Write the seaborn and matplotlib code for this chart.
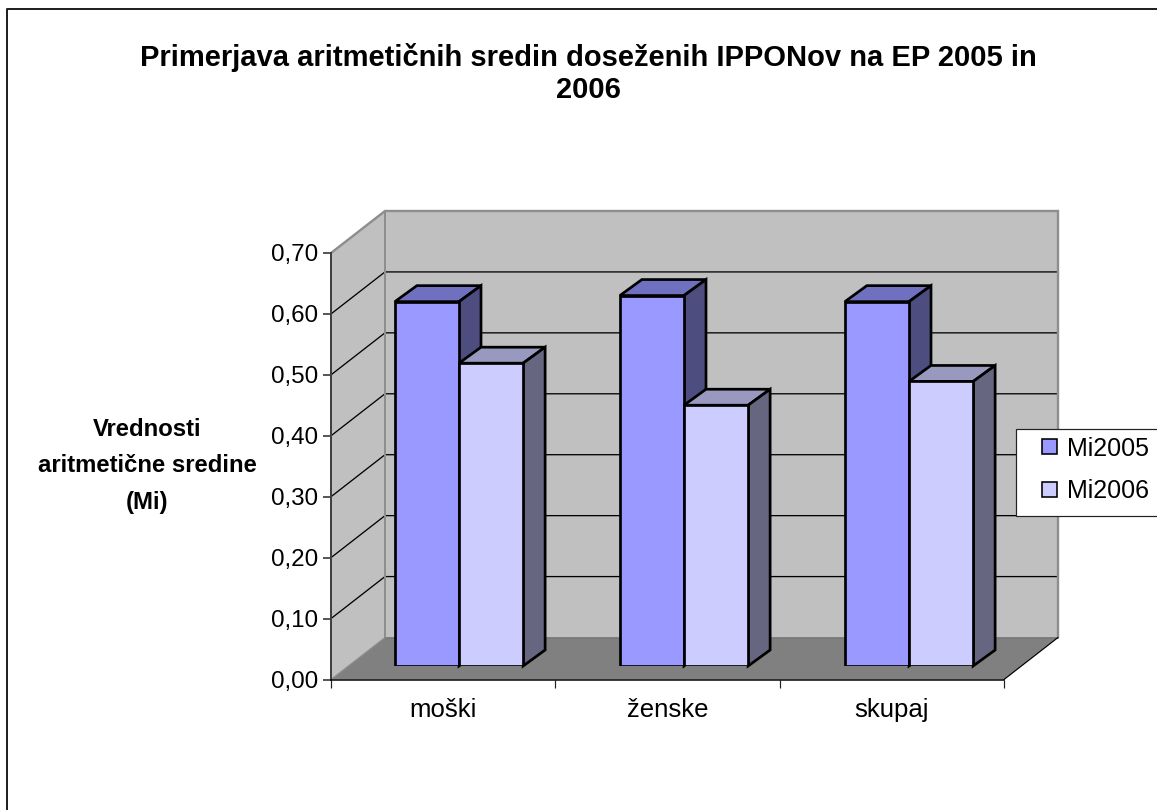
"""
Primerjava aritmeticnih sredin - 3D style column chart
drawn with a seaborn barplot, depth faces taken from the bar patches.
"""

import pandas as pd
import seaborn as sns
import matplotlib
matplotlib.use("Agg")
import matplotlib.pyplot as plt
from matplotlib.lines import Line2D
from matplotlib.patches import Patch, Polygon, Rectangle


# -------------------------
# Data
# -------------------------

categories = ["moški", "ženske", "skupaj"]
mi2005 = [0.598, 0.608, 0.598]
mi2006 = [0.497, 0.428, 0.467]
y_ticks = [0.0, 0.1, 0.2, 0.3, 0.4, 0.5, 0.6, 0.7]

title = "Primerjava aritmetičnih sredin doseženih IPPONov na EP 2005 in\n2006"
y_title = "Vrednosti\naritmetične sredine\n(Mi)"

data = pd.DataFrame({
    "kategorija": categories * 2,
    "serija": ["Mi2005"] * 3 + ["Mi2006"] * 3,
    "vrednost": mi2005 + mi2006,
})


# -------------------------
# Style
# -------------------------

sns.set_style("white")
plt.rcParams["font.family"] = ["Liberation Sans", "DejaVu Sans"]
plt.rcParams["text.color"] = "black"
plt.rcParams["axes.labelcolor"] = "black"
plt.rcParams["xtick.color"] = "black"
plt.rcParams["ytick.color"] = "black"

W, H = 1157, 810
PX = 0.72  # one pixel in points at dpi 100

front_colors = {"Mi2005": "#9999FF", "Mi2006": "#CCCCFF"}
top_colors = {"Mi2005": "#7070C0", "Mi2006": "#9999C0"}
side_colors = {"Mi2005": "#4D4D80", "Mi2006": "#666680"}

WALL = "#C0C0C0"
FLOOR = "#808080"
EDGE = "#8E8E8E"


def fig_rect(x0, y_top, x1, y_bottom):
    return [x0 / W, 1 - y_bottom / H, (x1 - x0) / W, (y_bottom - y_top) / H]


fig = plt.figure(figsize=(W / 100, H / 100), dpi=100, facecolor="white")

# front plane carries the axis, the bars stand a little further back
ax = fig.add_axes(fig_rect(331, 253, 1004, 679.5))
bar_ax = fig.add_axes(fig_rect(346.5, 239.5, 1021.5, 666))
bar_ax.set_zorder(ax.get_zorder() + 1)

x_lim = (-0.5, 2.5)
y_lim = (0, 0.7)

# depth of the whole box and of one bar, in data units
box_dx = 54 / 673 * 3
box_dy = 42 / 426.5 * 0.7
bar_dx = 22 / 675 * 3
bar_dy = 16 / 426.5 * 0.7


# -------------------------
# Walls and floor
# -------------------------

x0, x1 = x_lim
y0, y1 = y_lim

ax.add_patch(Polygon(
    [(x0, y0), (x0 + box_dx, y0 + box_dy), (x0 + box_dx, y1 + box_dy), (x0, y1)],
    facecolor=WALL, edgecolor="none", clip_on=False, zorder=1))
ax.add_patch(Polygon(
    [(x0 + box_dx, y0 + box_dy), (x1 + box_dx, y0 + box_dy),
     (x1 + box_dx, y1 + box_dy), (x0 + box_dx, y1 + box_dy)],
    facecolor=WALL, edgecolor="none", clip_on=False, zorder=1))
ax.add_patch(Polygon(
    [(x0, y0), (x1, y0), (x1 + box_dx, y0 + box_dy), (x0 + box_dx, y0 + box_dy)],
    facecolor=FLOOR, edgecolor="none", clip_on=False, zorder=1.5))

for v in y_ticks[1:-1]:
    ax.plot([x0, x0 + box_dx, x1 + box_dx], [v, v + box_dy, v + box_dy],
            color="black", lw=1.3 * PX, clip_on=False, zorder=2)

# grey outline of the back wall
ax.plot([x0, x0 + box_dx, x1 + box_dx, x1 + box_dx],
        [y1, y1 + box_dy, y1 + box_dy, y0 + box_dy],
        color=EDGE, lw=2.4 * PX, clip_on=False, zorder=2, solid_joinstyle="miter")
ax.plot([x0 + box_dx, x0 + box_dx], [y0 + box_dy, y1 + box_dy],
        color=EDGE, lw=2 * PX, clip_on=False, zorder=2)
ax.plot([x0 + box_dx, x1 + box_dx], [y0 + box_dy, y0 + box_dy],
        color="#767676", lw=1.5 * PX, clip_on=False, zorder=2)
ax.plot([x0, x0 + box_dx], [y0, y0 + box_dy],
        color=EDGE, lw=1.2 * PX, clip_on=False, zorder=2)
ax.plot([x1, x1 + box_dx], [y0, y0 + box_dy],
        color="black", lw=1.2 * PX, clip_on=False, zorder=2)


# -------------------------
# Bars
# -------------------------

sns.barplot(
    data=data,
    x="kategorija",
    y="vrednost",
    hue="serija",
    order=categories,
    palette=front_colors,
    saturation=1,
    width=0.57,
    gap=0,
    errorbar=None,
    edgecolor="black",
    linewidth=2.7 * PX,
    legend=False,
    ax=bar_ax,
)

for i, (container, name) in enumerate(zip(bar_ax.containers, ["Mi2005", "Mi2006"])):
    for bar in container:
        left, right = bar.get_x(), bar.get_x() + bar.get_width()
        top = bar.get_height()
        bar.set_zorder(3 + 2 * i)
        bar.set_joinstyle("miter")
        bar_ax.add_patch(Polygon(
            [(left, top), (right, top), (right + bar_dx, top + bar_dy), (left + bar_dx, top + bar_dy)],
            facecolor=top_colors[name], edgecolor="black", lw=2.7 * PX,
            clip_on=False, zorder=2.5 + 2 * i, joinstyle="miter"))
        bar_ax.add_patch(Polygon(
            [(right, 0), (right + bar_dx, bar_dy), (right + bar_dx, top + bar_dy), (right, top)],
            facecolor=side_colors[name], edgecolor="black", lw=2.7 * PX,
            clip_on=False, zorder=2.5 + 2 * i, joinstyle="miter"))

bar_ax.set_xlim(x_lim)
bar_ax.set_ylim(y_lim)
bar_ax.axis("off")


# -------------------------
# Axis formatting
# -------------------------

ax.set_xlim(x_lim)
ax.set_ylim(y_lim)
ax.patch.set_visible(False)

ax.set_yticks(y_ticks)
ax.set_yticklabels([f"{v:.2f}".replace(".", ",") for v in y_ticks])
ax.set_xticks(range(len(categories)))
ax.set_xticklabels(categories)
ax.set_xticks([-0.5, 0.5, 1.5, 2.5], minor=True)

ax.tick_params(axis="x", which="major", bottom=True, length=0, pad=13, labelsize=18.5)
ax.tick_params(axis="x", which="minor", bottom=True, direction="out", length=8 * PX,
               width=1.2 * PX, color="#222222")
ax.tick_params(axis="y", left=True, direction="out", length=8 * PX, width=1.5 * PX,
               color="#222222", pad=3.5, labelsize=17.4)

for loc, spine in ax.spines.items():
    if loc == "left":
        spine.set_color("#404040")
        spine.set_linewidth(2 * PX)
    elif loc == "bottom":
        spine.set_color("black")
        spine.set_linewidth(1.5 * PX)
    else:
        spine.set_visible(False)
    spine.set_zorder(2.5)

ax.set_xlabel("")
ax.set_ylabel("")


# -------------------------
# Texts
# -------------------------

fig.text(588 / W, 1 - 73.5 / H, title, ha="center", va="center",
         fontsize=21, fontweight="bold", linespacing=1.2)
fig.text(147 / W, 1 - 466 / H, y_title, ha="center", va="center",
         fontsize=17.2, fontweight="bold", linespacing=1.75)


# -------------------------
# Legend and chart border
# -------------------------

fig.add_artist(Rectangle((1016 / W, 1 - 516 / H), 160 / W, 87 / H,
                         transform=fig.transFigure, facecolor="white",
                         edgecolor="#222222", lw=1.2 * PX, zorder=5))

handles = [Patch(facecolor=front_colors[n], edgecolor="black", lw=1.6 * PX, label=n)
           for n in front_colors]
legend = fig.legend(
    handles=handles,
    loc="center left",
    bbox_to_anchor=(1042 / W, 1 - 470 / H),
    frameon=False,
    fontsize=18,
    borderpad=0,
    borderaxespad=0,
    handlelength=0.58,
    handleheight=0.58,
    handletextpad=0.42,
    labelspacing=0.76,
)
legend.set_zorder(6)

fig.add_artist(Line2D([7 / W, 7 / W, 1], [0, 1 - 9 / H, 1 - 9 / H],
                      transform=fig.transFigure, color="#222222", lw=2 * PX, zorder=7))


# -------------------------
# Save figure
# -------------------------

fig.savefig("out.png", dpi=100)
plt.close(fig)
